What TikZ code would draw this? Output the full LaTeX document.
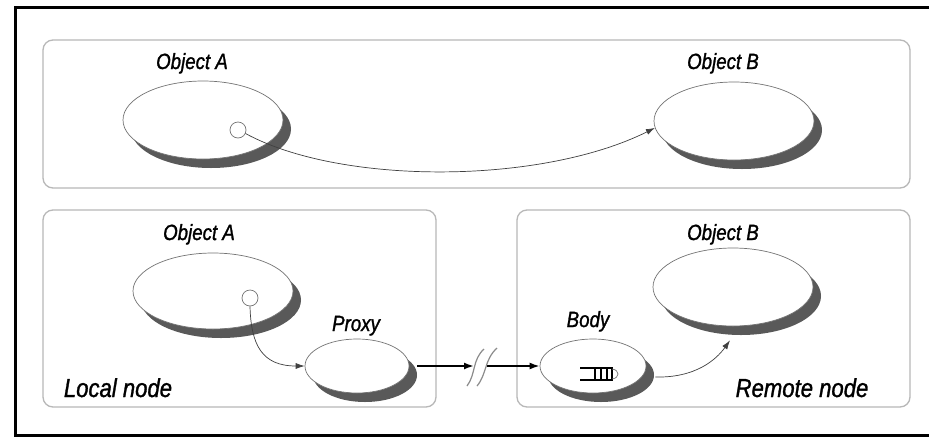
\documentclass[tikz,border=0pt]{standalone}
\usepackage{fontspec}
\newfontfamily\labfont[FakeStretch=0.85,FakeBold=1.2]{Liberation Sans}
\usetikzlibrary{shapes.geometric,shadows,arrows.meta,calc}
\begin{document}
\begin{tikzpicture}[x=1pt,y=-1pt,
  panel/.style={draw=black!28,line width=1.3pt,rounded corners=10pt},
  obj/.style={ellipse,draw=black!55,line width=0.7pt,fill=white,inner sep=0pt,
     drop shadow={opacity=1,fill=black!65,shadow xshift=8pt,shadow yshift=-9pt}},
  port/.style={circle,draw=black!55,line width=0.7pt,fill=white,minimum size=16pt,inner sep=0pt},
  lab/.style={font=\labfont\itshape\fontsize{22}{24}\selectfont,anchor=base,inner sep=0pt},
  big/.style={font=\labfont\itshape\fontsize{26}{28}\selectfont,anchor=base,inner sep=0pt},
  conn/.style={draw=black!75,line width=0.7pt,-{Latex[length=9pt,width=6pt]}},
  link/.style={draw=black,line width=1.8pt,-{Latex[length=10pt,width=7pt]}},
  brk/.style={draw=black!45,line width=1.2pt}
]
\useasboundingbox (0,0) rectangle (929,437);
\fill[white] (0,0) rectangle (929,437);
% outer frame
\draw[line width=3pt] (929,7) -- (15,7) -- (15,435) -- (929,435);
% panels
\draw[panel] (43,40) rectangle (910,188);
\draw[panel] (43,210) rectangle (436,407);
\draw[panel] (517,210) rectangle (910,407);

% top row
\node[obj,minimum width=160pt,minimum height=78pt] (a1) at (203,120) {};
\node[obj,minimum width=160pt,minimum height=78pt] (b1) at (734,121) {};
\node[port] (c1) at (238,130) {};
\node[lab] (la1) at (192,69) {Object A};
\node[lab] (lb1) at (723,69) {Object B};
\draw[conn] (c1.-25) .. controls (340,185) and (540,185) .. (b1.185);

% bottom row
\node[obj,minimum width=160pt,minimum height=76pt] (a2) at (213,291) {};
\node[port] (c2) at (250,298) {};
\node[lab] (la2) at (199,240) {Object A};
\node[obj,minimum width=104pt,minimum height=54pt] (p) at (357,366) {};
\node[lab] (lp) at (356,331) {Proxy};
\node[obj,minimum width=106pt,minimum height=54pt] (body) at (593,366) {};
\node[lab] (lbody) at (588,327) {Body};
\node[obj,minimum width=160pt,minimum height=78pt] (b2) at (733,287) {};
\node[lab] (lb2) at (723,240) {Object B};
\node[big] (loc) at (118,397) {Local node};
\node[big] (rem) at (802,397) {Remote node};

% queue icon inside body
\begin{scope}[shift={(body.center)}]
  \draw[line width=1.1pt] (-13,2) -- (19,2) -- (19,14) -- (-13,14);
  \draw[line width=1.1pt] (2,2) -- (2,14) (8,2) -- (8,14) (14,2) -- (14,14);
  \draw[black!55,line width=0.7pt] (19,3) .. controls (27,4) and (27,12) .. (19,13);
\end{scope}

% connectors
\draw[conn] (c2.south) .. controls (251,345) and (262,366) .. (p.west);
\coordinate (brkA) at (474,366);
\coordinate (brkB) at (487,366);
\draw[link] ($(p.east)+(8,0)$) -- (brkA);
\draw[link] (brkB) -- (body.west);
\draw[brk] (467,386) .. controls (476,374) and (472,360) .. (484,349);
\draw[brk] (477,386) .. controls (487,374) and (484,360) .. (497,348);
\draw[conn] ($(body.east)+(9,11)$) .. controls (695,378) and (716,360) .. ($(b2.south)+(-3,14)$);
\end{tikzpicture}
\end{document}
